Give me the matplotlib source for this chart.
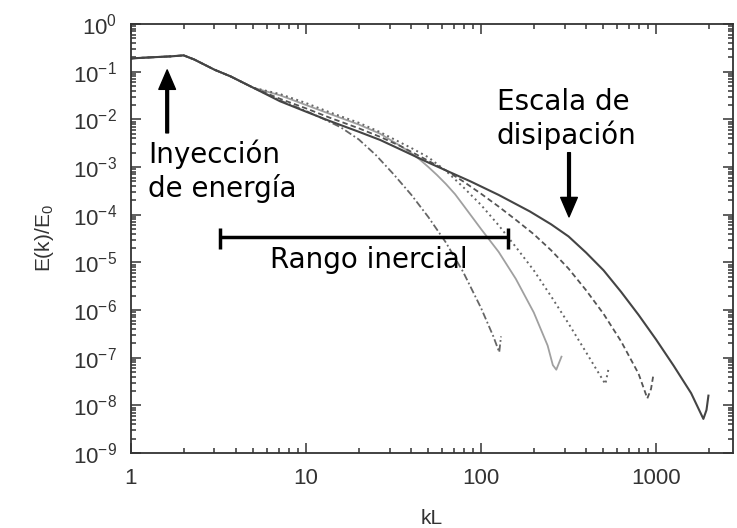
"""Espectro de energía E(k)/E0 frente a kL para varias resoluciones."""

import matplotlib

matplotlib.use("Agg")
import matplotlib.pyplot as plt
import numpy as np
from matplotlib.ticker import FixedLocator, LogLocator, NullFormatter, FixedFormatter

plt.rcParams["font.family"] = ["Liberation Sans", "DejaVu Sans"]
plt.rcParams["mathtext.fontset"] = "custom"
plt.rcParams["mathtext.rm"] = "Liberation Sans"
plt.rcParams["mathtext.it"] = "Liberation Sans:italic"
plt.rcParams["axes.unicode_minus"] = False

# tramo común (inyección de energía)
K_LOW = [1.0, 1.3, 1.7, 2.0, 2.3, 3.0, 3.7, 5.0]
E_LOW = [0.19, 0.20, 0.21, 0.22, 0.18, 0.11, 0.08, 0.046]

# resolución más alta (línea continua)
K_SOLID = [7.1, 10, 13.7, 20, 26.5, 35, 51, 87, 126, 190, 251, 316, 398, 501, 631,
           794, 1000, 1259, 1585, 1862, 1940, 1990]
E_SOLID = [0.024, 0.0145, 0.0092, 0.0055, 0.0037, 0.0023, 0.0012, 5.0e-4, 2.6e-4,
           1.17e-4, 6.3e-5, 3.5e-5, 1.6e-5, 6.8e-6, 2.4e-6, 7.9e-7, 2.4e-7, 6.8e-8,
           1.8e-8, 5.2e-9, 8.0e-9, 1.6e-8]

# discontinua
K_DASH = [7.1, 10, 13.7, 20, 26.5, 35, 51, 63, 79, 100, 126, 158, 200, 251, 316,
          398, 501, 631, 794, 891, 935, 961]
E_DASH = [0.027, 0.017, 0.0108, 0.0065, 0.0043, 0.0027, 0.0013, 8.5e-4, 5.0e-4,
          2.75e-4, 1.48e-4, 7.8e-5, 3.9e-5, 1.8e-5, 7.4e-6, 2.6e-6, 8.3e-7, 2.2e-7,
          4.6e-8, 1.4e-8, 2.2e-8, 4.0e-8]

# punteada
K_DOT = [7.1, 10, 13.7, 20, 26.5, 35, 40, 50, 63, 79, 100, 126, 158, 200, 251, 316,
         398, 457, 513, 537]
E_DOT = [0.034, 0.022, 0.014, 0.0085, 0.0054, 0.0032, 2.5e-3, 1.6e-3, 8.3e-4,
         3.8e-4, 1.6e-4, 6.0e-5, 2.1e-5, 6.8e-6, 1.95e-6, 5.2e-7, 1.3e-7, 5.6e-8,
         2.8e-8, 6.3e-8]

# gris claro
K_GREY = [7.1, 10, 13.7, 20, 26.5, 35, 40, 45, 50, 56, 63, 71, 79, 100, 126, 158,
          200, 240, 257, 269, 288]
E_GREY = [0.032, 0.020, 0.013, 0.0078, 0.0050, 0.0027, 1.95e-3, 1.4e-3, 1.0e-3,
          6.8e-4, 4.4e-4, 2.7e-4, 1.6e-4, 5.0e-5, 1.66e-5, 4.5e-6, 8.9e-7, 1.8e-7,
          7.0e-8, 5.6e-8, 1.05e-7]

# punto y raya (resolución más baja)
K_DASHDOT = [7.1, 10, 12.6, 15.8, 20, 25, 31.6, 40, 50, 63, 79, 100, 117.5, 127, 130]
E_DASHDOT = [0.025, 0.015, 0.0102, 6.8e-3, 3.8e-3, 1.8e-3, 7.1e-4, 2.6e-4, 8.9e-5,
             2.6e-5, 6.3e-6, 1.1e-6, 2.8e-7, 1.3e-7, 2.8e-7]

X_TICKS = [1, 10, 100, 1000]
X_LABELS = ["1", "10", "100", "1000"]

fig = plt.figure(figsize=(7.37, 5.28), dpi=100)
ax = fig.add_axes([0.1777, 0.142, 0.8169, 0.8125])

curves = [
    (K_DASHDOT, E_DASHDOT, dict(color="#666666", lw=1.3, ls=(0, (4, 1.5, 1, 1.5)))),
    (K_GREY, E_GREY, dict(color="#a0a0a0", lw=1.3, ls="-")),
    (K_DOT, E_DOT, dict(color="#666666", lw=1.4, ls=(0, (1, 1.8)))),
    (K_DASH, E_DASH, dict(color="#555555", lw=1.3, ls=(0, (3, 1.8)))),
    (K_SOLID, E_SOLID, dict(color="#444444", lw=1.5, ls="-")),
]
for k, e, style in curves:
    ax.plot(np.array(K_LOW + k), np.array(E_LOW + e), **style)

ax.set_xscale("log")
ax.set_yscale("log")
ax.set_xlim(1, 2750)
ax.set_ylim(1e-9, 1)

ax.xaxis.set_major_locator(FixedLocator(X_TICKS))
ax.xaxis.set_major_formatter(FixedFormatter(X_LABELS))
ax.xaxis.set_minor_locator(LogLocator(base=10, subs=np.arange(2, 10), numticks=100))
ax.xaxis.set_minor_formatter(NullFormatter())
ax.yaxis.set_major_locator(LogLocator(base=10, numticks=20))
ax.yaxis.set_minor_locator(LogLocator(base=10, subs=np.arange(2, 10), numticks=100))
ax.yaxis.set_minor_formatter(NullFormatter())

for side in ax.spines.values():
    side.set_color("#333333")
    side.set_linewidth(1.3)
ax.tick_params(which="both", direction="in", top=True, right=True, color="#333333",
               width=1.1)
ax.tick_params(which="major", length=7)
ax.tick_params(which="minor", length=3.5)
ax.tick_params(axis="x", which="major", labelsize=16, pad=11, labelcolor="#333333")
ax.tick_params(axis="y", which="major", labelsize=16, pad=10, labelcolor="#333333")

ax.set_xlabel("kL", fontsize=15, color="#333333", labelpad=14)
ax.set_ylabel("E(k)/E$_0$", fontsize=15, color="#333333", labelpad=12)

# anotaciones
note = dict(fontsize=20, family="DejaVu Sans", color="black")
arrow = dict(facecolor="black", edgecolor="black", width=2, headwidth=12,
             headlength=14, shrink=0)

ax.annotate("", xy=(1.61, 0.109), xytext=(1.61, 5.2e-3), arrowprops=arrow)
ax.text(1.25, 3.7e-3, "Inyección\nde energía", va="top", ha="left", **note)

ax.annotate("", xy=(318, 9e-5), xytext=(318, 2e-3), arrowprops=arrow)
ax.text(123, 0.045, "Escala de\ndisipación", va="top", ha="left", **note)

RANGE_K = (3.23, 142.6)
RANGE_E = 3.4e-5
ax.plot(RANGE_K, (RANGE_E, RANGE_E), color="black", lw=2.5, solid_capstyle="butt")
ax.vlines(RANGE_K, 1.9e-5, 5.3e-5, color="black", lw=2.5)
ax.text(22.9, 7.7e-6, "Rango inercial", va="baseline", ha="center", **note)

fig.savefig("out.png", dpi=100)
